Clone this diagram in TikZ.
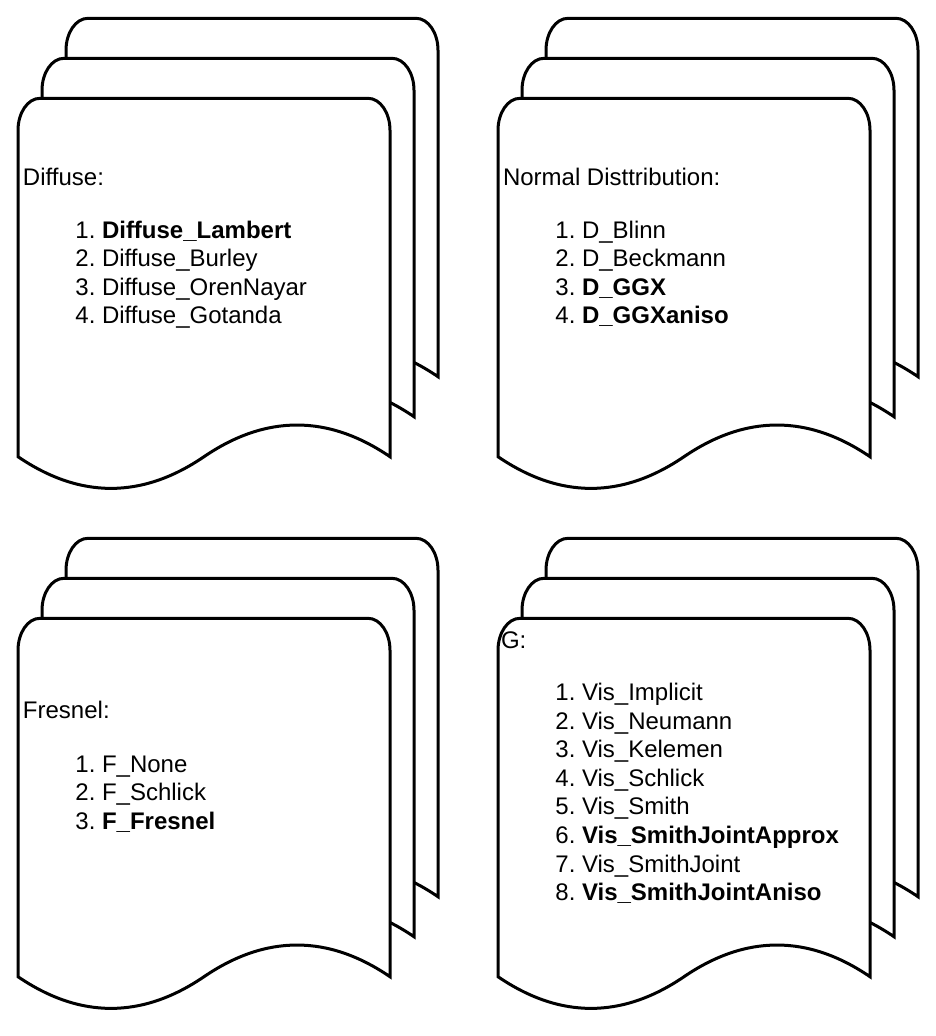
\documentclass[tikz,border=0pt]{standalone}
\usepackage{fontspec}
\setmainfont{Liberation Sans}
\tikzset{
  docline/.style={draw=black, line width=3pt, fill=white},
  txt/.style={inner sep=0pt, outer sep=0pt, font=\fontsize{24}{28.6}\selectfont},
  hdr/.style={txt, anchor=base west},
  num/.style={txt, anchor=base east},
  itm/.style={txt, anchor=base west},
  docpage/.pic={
    \path[docline] (0,32) .. controls (0,14.33) and (9.85,0) .. (22,0)
      -- (350,0) .. controls (362.15,0) and (372,14.33) .. (372,32)
      -- (372,358.4)
      .. controls (310,316.16) and (248,316.16) .. (186,358.4)
      .. controls (124,400.64) and (62,400.64) .. (0,358.4) -- cycle;
  }
}
\newcommand\docstack[2]{%
  \pic at (#1+66,#2+18.3) {docpage};
  \pic at (#1+42,#2+58.3) {docpage};
  \pic at (#1+18,#2+98.3) {docpage};
}
\begin{document}
\begin{tikzpicture}[x=1pt,y=-1pt]
\useasboundingbox (0,0) rectangle (936,1036);
\docstack{0}{0}
\docstack{480}{0}
\docstack{0}{520}
\docstack{480}{520}

% top-left
\node[hdr] (tlh) at (23,185.5) {Diffuse:};
\foreach \t [count=\i] in {{\textbf{Diffuse\_Lambert}},{Diffuse\_Burley},{Diffuse\_OrenNayar},{Diffuse\_Gotanda}}{
  \node[num] (tln\i) at (95.5,238+28.6*\i-28.6) {\i.};
  \node[itm] (tlt\i) at (102,238+28.6*\i-28.6) {\t};
}
% top-right
\node[hdr] (trh) at (503,185.5) {Normal Disttribution:};
\foreach \t [count=\i] in {{D\_Blinn},{D\_Beckmann},{\textbf{D\_GGX}},{\textbf{D\_GGXaniso}}}{
  \node[num] (trn\i) at (575.5,238+28.6*\i-28.6) {\i.};
  \node[itm] (trt\i) at (582,238+28.6*\i-28.6) {\t};
}
% bottom-left
\node[hdr] (blh) at (23,718.5) {Fresnel:};
\foreach \t [count=\i] in {{F\_None},{F\_Schlick},{\textbf{F\_Fresnel}}}{
  \node[num] (bln\i) at (95.5,772+28.6*\i-28.6) {\i.};
  \node[itm] (blt\i) at (102,772+28.6*\i-28.6) {\t};
}
% bottom-right
\node[hdr] (brh) at (501,648) {G:};
\foreach \t [count=\i] in {{Vis\_Implicit},{Vis\_Neumann},{Vis\_Kelemen},{Vis\_Schlick},{Vis\_Smith},{\textbf{Vis\_SmithJointApprox}},{Vis\_SmithJoint},{\textbf{Vis\_SmithJointAniso}}}{
  \node[num] (brn\i) at (575.5,700.5+28.6*\i-28.6) {\i.};
  \node[itm] (brt\i) at (582,700.5+28.6*\i-28.6) {\t};
}
\end{tikzpicture}
\end{document}
